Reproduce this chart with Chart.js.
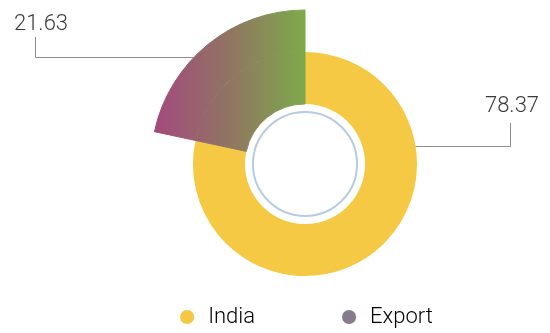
<!DOCTYPE html>
<html>
<head>
<meta charset="utf-8">
<script src="https://cdn.jsdelivr.net/npm/chart.js@4.4.1/dist/chart.umd.min.js"></script>
<style>
  html, body { margin: 0; padding: 0; background: #ffffff; }
  canvas { display: block; }
</style>
</head>
<body>
<canvas id="c" width="550" height="333"></canvas>
<script>
// ---- data ----
const categories = ['India', 'Export'];
const shares = [78.37, 21.63];
const legendColors = ['#f4c844', '#877a8b'];

// ---- style / layout constants ----
const INDIA_COLOR = '#f5c944';
const GRAD_STOPS = [[0, '#a4477f'], [0.5, '#917463'], [1, '#7ea94b']];
const OUTER_R = 154;          // export sector outer radius
const FONT = 'Roboto, "Open Sans", sans-serif';
// leader layout: corner x, top y of the vertical line, fraction along arc
const LEADERS = [
  { ring: 1, index: 0, frac: 0.286, cornerX: 510, topY: 123, textDx: 2, gap: 11 },
  { ring: 0, index: 1, frac: 0.41, cornerX: 35, topY: 37, textDx: 6, gap: 7 }
];

function exportGradient(chart) {
  const area = chart.chartArea;
  if (!area) return legendColors[1];
  const cx = (area.left + area.right) / 2;
  const g = chart.ctx.createLinearGradient(cx - OUTER_R, 0, cx, 0);
  GRAD_STOPS.forEach(s => g.addColorStop(s[0], s[1]));
  return g;
}

const decorPlugin = {
  id: 'decor',
  afterDatasetsDraw(chart) {
    const ctx = chart.ctx;
    const innerArc = chart.getDatasetMeta(1).data[0];
    ctx.save();
    // inner blue ring
    ctx.beginPath();
    ctx.arc(innerArc.x, innerArc.y, innerArc.innerRadius - 8, 0, Math.PI * 2);
    ctx.strokeStyle = '#b6cce2';
    ctx.lineWidth = 2;
    ctx.stroke();
    // leaders and value labels
    LEADERS.forEach(L => {
      const arc = chart.getDatasetMeta(L.ring).data[L.index];
      const ang = arc.startAngle + L.frac * (arc.endAngle - arc.startAngle);
      const px = arc.x + Math.cos(ang) * arc.outerRadius;
      const py = arc.y + Math.sin(ang) * arc.outerRadius;
      ctx.beginPath();
      ctx.moveTo(px, Math.round(py) + 0.5);
      ctx.lineTo(L.cornerX + 0.5, Math.round(py) + 0.5);
      ctx.lineTo(L.cornerX + 0.5, L.topY);
      ctx.strokeStyle = '#8c8c8c';
      ctx.lineWidth = 1;
      ctx.stroke();
      ctx.font = '300 22px ' + FONT;
      ctx.fillStyle = '#3a3a3a';
      ctx.textAlign = 'center';
      ctx.textBaseline = 'alphabetic';
      ctx.fillText(shares[L.index].toFixed(2), L.cornerX + L.textDx, L.topY - L.gap);
    });
    ctx.restore();
  }
};

const exportFill = (fallback) => (c) => c.dataIndex === 1 ? exportGradient(c.chart) : fallback;

new Chart(document.getElementById('c'), {
  type: 'doughnut',
  data: {
    labels: categories,
    datasets: [
      { // outer ring: only the export sector extends here
        data: shares,
        weight: 42,
        backgroundColor: exportFill('rgba(0,0,0,0)'),
        borderColor: exportFill('rgba(0,0,0,0)'),
        borderWidth: (c) => c.dataIndex === 1 ? 1 : 0,
        clip: false
      },
      { // inner ring
        data: shares,
        weight: 52,
        backgroundColor: exportFill(INDIA_COLOR),
        borderColor: exportFill(INDIA_COLOR),
        borderWidth: (c) => c.dataIndex === 1 ? 1 : 0,
        clip: false
      }
    ]
  },
  options: {
    responsive: false,
    animation: false,
    radius: OUTER_R,
    cutout: '39%',
    layout: { padding: { left: 60, right: 0, top: 106, bottom: -5 } },
    plugins: {
      tooltip: { enabled: false },
      legend: {
        position: 'bottom',
        labels: {
          usePointStyle: true,
          pointStyle: 'circle',
          boxWidth: 20,
          boxHeight: 10,
          padding: 84,
          color: '#3a3a3a',
          font: { family: FONT, size: 22, weight: '300' },
          generateLabels: () => categories.map((t, i) => ({
            text: t,
            fillStyle: legendColors[i],
            strokeStyle: legendColors[i],
            lineWidth: 0,
            pointStyle: 'circle',
            hidden: false,
            index: i
          }))
        }
      }
    }
  },
  plugins: [decorPlugin]
});
</script>
</body>
</html>
